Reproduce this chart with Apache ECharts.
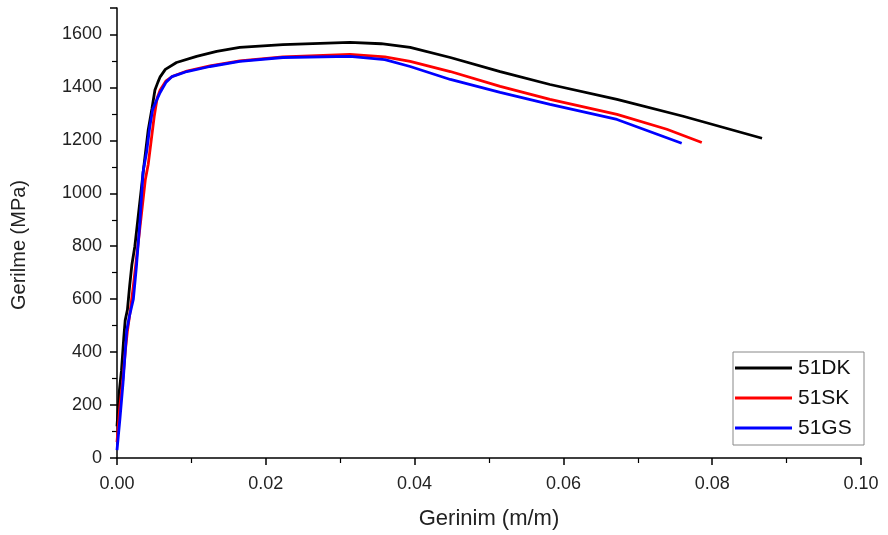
<!DOCTYPE html>
<html>
<head>
<meta charset="utf-8">
<script src="https://cdn.jsdelivr.net/npm/echarts@6/dist/echarts.min.js"></script>
<style>html,body{margin:0;padding:0;background:#fff}#c{width:888px;height:535px}</style>
</head>
<body>
<div id="c"></div>
<script>
const seriesNames = ['51DK', '51SK', '51GS'];
const colors = ['#000000', '#ff0000', '#0000ff'];

const strainDK = [0, 0.0003, 0.0006, 0.0009, 0.0011, 0.0014, 0.0017, 0.0020, 0.0024, 0.0028, 0.0032, 0.0036, 0.0042, 0.0047, 0.0051, 0.0055, 0.0058, 0.0065, 0.008, 0.0107, 0.0134, 0.0165, 0.0223, 0.0313, 0.0355, 0.0394, 0.0448, 0.0515, 0.0582, 0.0672, 0.0761, 0.0867];
const stressDK = [120, 250, 330, 450, 520, 560, 650, 730, 800, 900, 1000, 1100, 1240, 1320, 1390, 1420, 1440, 1468, 1494, 1517, 1536, 1551, 1562, 1570, 1565, 1551, 1513, 1460, 1411, 1355, 1291, 1208];

const strainSK = [0, 0.0004, 0.0008, 0.0011, 0.0014, 0.0018, 0.0022, 0.0026, 0.003, 0.0034, 0.0038, 0.0042, 0.0046, 0.005, 0.0054, 0.0058, 0.0066, 0.0074, 0.0094, 0.0125, 0.0165, 0.0223, 0.0313, 0.036, 0.0394, 0.0448, 0.0515, 0.0582, 0.0672, 0.0739, 0.0786];
const stressSK = [60, 200, 300, 400, 480, 560, 650, 750, 850, 950, 1050, 1110, 1200, 1290, 1360, 1390, 1425, 1441, 1462, 1481, 1500, 1515, 1525, 1515, 1498, 1460, 1404, 1355, 1298, 1242, 1192];

const strainGS = [0, 0.0004, 0.0008, 0.0011, 0.0013, 0.0017, 0.0022, 0.0026, 0.0031, 0.0035, 0.004, 0.0044, 0.0048, 0.0053, 0.0058, 0.0066, 0.0074, 0.0094, 0.0125, 0.0165, 0.0223, 0.0313, 0.036, 0.0394, 0.0448, 0.0515, 0.0582, 0.0672, 0.0726, 0.0759];
const stressGS = [30, 150, 280, 400, 480, 540, 600, 720, 900, 1080, 1160, 1250, 1317, 1350, 1381, 1420, 1441, 1460, 1479, 1498, 1513, 1517, 1505, 1479, 1430, 1381, 1336, 1279, 1223, 1189];

const xTicks = [0, 0.02, 0.04, 0.06, 0.08, 0.10];
const yTicks = [0, 200, 400, 600, 800, 1000, 1200, 1400, 1600];

function pairs(xs, ys) { return xs.map((x, i) => [x, ys[i]]); }
const allData = [pairs(strainDK, stressDK), pairs(strainSK, stressSK), pairs(strainGS, stressGS)];

const font = 'Liberation Sans, Arial, sans-serif';
const chart = echarts.init(document.getElementById('c'), null, {renderer: 'canvas'});
chart.setOption({
  animation: false,
  backgroundColor: '#ffffff',
  grid: {left: 117, right: 27, top: 8, bottom: 76},
  xAxis: {
    type: 'value', min: 0, max: 0.10, interval: 0.02,
    name: 'Gerinim (m/m)', nameLocation: 'middle', nameGap: 50,
    nameTextStyle: {fontFamily: font, fontSize: 22, color: '#222'},
    axisLine: {show: true, onZero: false, lineStyle: {color: '#000', width: 1.5}},
    axisTick: {show: true, inside: false, length: 7, lineStyle: {color: '#000', width: 1.5}},
    minorTick: {show: true, splitNumber: 2, length: 5, lineStyle: {color: '#000', width: 1.2}},
    splitLine: {show: false},
    axisLabel: {fontFamily: font, fontSize: 18, color: '#222', margin: 17,
      formatter: v => (xTicks.some(t => Math.abs(t - v) < 1e-9) ? v.toFixed(2) : '')}
  },
  yAxis: {
    type: 'value', min: 0, max: 1700, interval: 200,
    axisLine: {show: true, lineStyle: {color: '#000', width: 1.5}},
    axisTick: {show: true, inside: false, length: 7, lineStyle: {color: '#000', width: 1.5}},
    minorTick: {show: true, splitNumber: 2, length: 5, lineStyle: {color: '#000', width: 1.2}},
    splitLine: {show: false},
    axisLabel: {fontFamily: font, fontSize: 18, color: '#222', margin: 15, showMaxLabel: false,
      formatter: v => (yTicks.indexOf(v) >= 0 ? String(v) : '')}
  },
  graphic: [{
    type: 'text', x: 19, y: 245, rotation: Math.PI / 2,
    style: {text: 'Gerilme (MPa)', fontFamily: font, fontSize: 20, fill: '#222',
      textAlign: 'center', textVerticalAlign: 'middle'}
  }],
  legend: {
    orient: 'vertical', left: 733, top: 352,
    itemWidth: 57, itemHeight: 14, itemGap: 6,
    padding: [4, 7, 5, 2],
    borderColor: '#888', borderWidth: 1,
    textStyle: {fontFamily: font, fontSize: 21, lineHeight: 24, width: 59, color: '#111', padding: [0, 0, 0, 1]},
    data: seriesNames.map((n, i) => ({name: n, icon: 'path://M0,0L57,0L57,3L0,3Z', itemStyle: {color: colors[i]}}))
  },
  series: seriesNames.map((n, i) => ({
    name: n, type: 'line', data: allData[i], showSymbol: false, symbol: 'none',
    smooth: false,
    lineStyle: {color: colors[i], width: 2.8},
    itemStyle: {color: colors[i]}
  }))
});
</script>
</body>
</html>
